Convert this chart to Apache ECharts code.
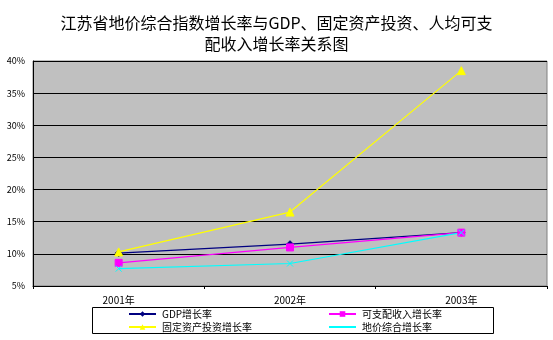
<!DOCTYPE html>
<html><head><meta charset="utf-8">
<script src="https://cdn.jsdelivr.net/npm/echarts@6/dist/echarts.min.js"></script>
<style>html,body{margin:0;padding:0;background:#fff}#c{width:553px;height:340px}</style>
</head><body><div id="c"></div>
<script>
const categories = ['2001年', '2002年', '2003年'];
const gdpGrowth = [10.1, 11.5, 13.3];
const incomeGrowth = [8.6, 11.0, 13.3];
const investGrowth = [10.3, 16.5, 38.5];
const landGrowth = [7.7, 8.5, 13.3];
const seriesNames = ['GDP增长率', '可支配收入增长率', '固定资产投资增长率', '地价综合增长率'];
const yTicks = [5, 10, 15, 20, 25, 30, 35, 40];

const font = '"Noto Sans CJK SC", sans-serif';
const xPath = 'path://M0,0L10,10M10,0L0,10';
const chart = echarts.init(document.getElementById('c'));
function mk(name, data, color, symbol, size) {
  return {
    name, type: 'line', data, symbol, symbolSize: size,
    lineStyle: { color, width: 1.2 }, itemStyle: { color, borderColor: color },
    emphasis: { disabled: true }, animation: false
  };
}
function lg(name, left, top) {
  return {
    data: [name], left, top, itemWidth: 27, itemHeight: 7, itemGap: 4, padding: 0,
    textStyle: { fontSize: 10, lineHeight: 12, fontFamily: font, color: '#000', padding: [0, 0, 0, 1] }, selectedMode: false
  };
}
chart.setOption({
  animation: false,
  backgroundColor: '#fff',
  title: {
    text: '江苏省地价综合指数增长率与GDP、固定资产投资、人均可支\n配收入增长率关系图',
    left: 'center', top: 7,
    textStyle: { fontSize: 16, fontWeight: 'normal', fontFamily: font, color: '#000', lineHeight: 21 }
  },
  graphic: [{
    type: 'rect', shape: { x: 92.5, y: 307.5, width: 401, height: 26 },
    style: { fill: '#fff', stroke: '#000', lineWidth: 1 }, z: 0
  }],
  legend: [
    lg(seriesNames[0], 128, 308),
    lg(seriesNames[1], 328, 308),
    lg(seriesNames[2], 128, 321),
    lg(seriesNames[3], 328, 321)
  ],
  grid: { left: 33, right: 6, top: 61, bottom: 54, show: true, backgroundColor: '#C0C0C0', borderColor: '#808080', borderWidth: 1 },
  xAxis: {
    type: 'category', data: categories, boundaryGap: true,
    axisLine: { lineStyle: { color: '#000' } },
    axisTick: { show: true, alignWithLabel: false, length: 3, lineStyle: { color: '#000' } },
    axisLabel: { fontSize: 10, fontFamily: font, color: '#000', margin: 9 }
  },
  yAxis: {
    type: 'value', min: yTicks[0], max: yTicks[yTicks.length - 1], interval: 5,
    axisLine: { show: true, lineStyle: { color: '#000' } },
    axisTick: { show: false },
    axisLabel: { fontSize: 9, fontFamily: font, color: '#000', margin: 8, formatter: v => v + '%' },
    splitLine: { lineStyle: { color: '#000', width: 1 } }
  },
  series: [
    mk(seriesNames[0], gdpGrowth, '#000080', 'diamond', 7),
    mk(seriesNames[1], incomeGrowth, '#FF00FF', 'rect', 7),
    mk(seriesNames[2], investGrowth, '#FFFF00', 'triangle', 8),
    mk(seriesNames[3], landGrowth, '#00FFFF', xPath, 6)
  ]
});
</script></body></html>
